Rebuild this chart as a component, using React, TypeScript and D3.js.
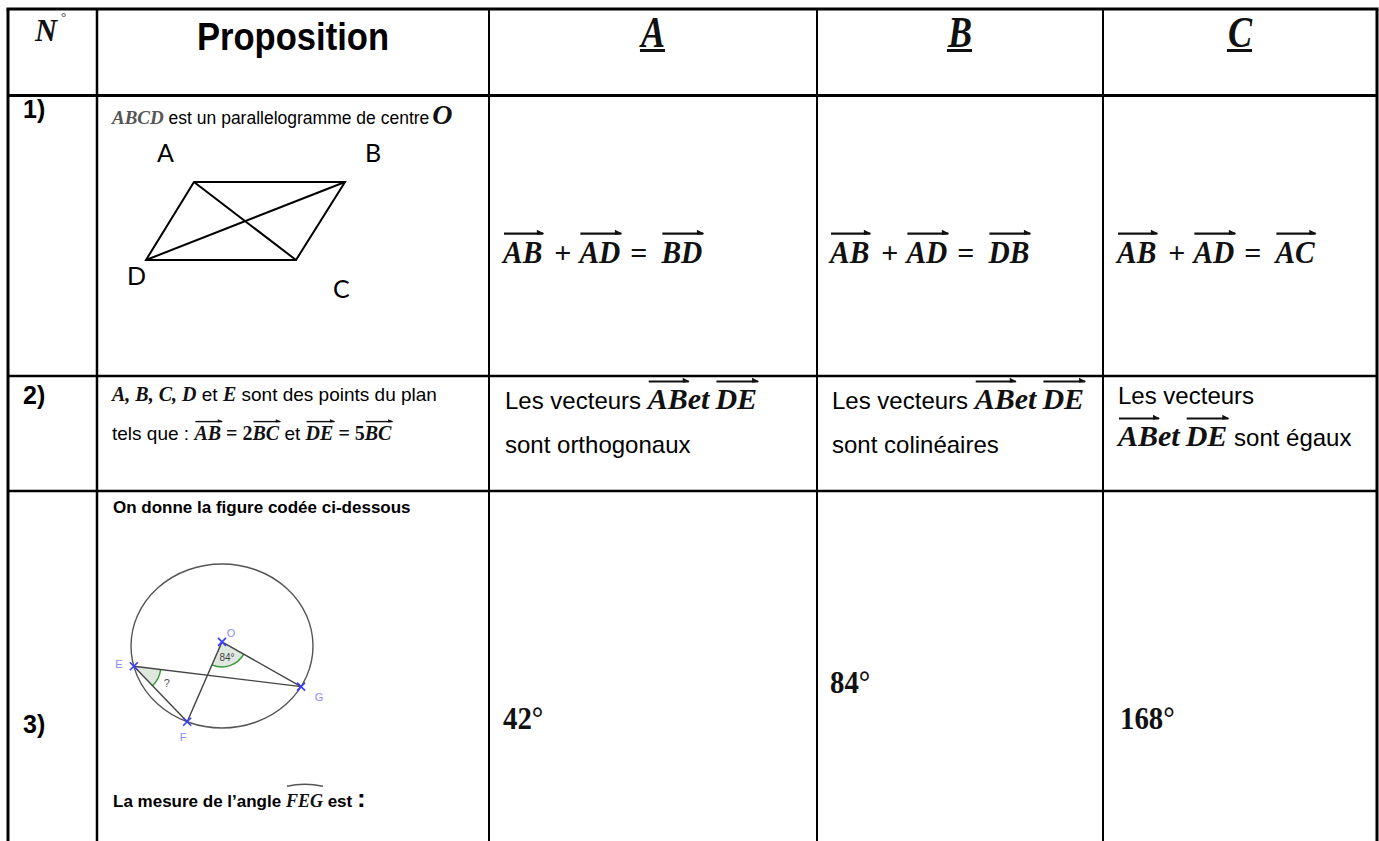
import React, { useEffect, useRef } from "react";
import * as d3 from "d3";

// ---------- content ----------
const headerTitle = "Proposition";
const choiceLetters = ["A", "B", "C"];
const rowLabels = ["1)", "2)", "3)"];

const q1Subject = "ABCD";
const q1Statement = " est un parallelogramme de centre";
const q1Centre = "O";
const q1VertexNames = ["A", "B", "C", "D"];
const q1VertexX = [48, 199, 150, 0];
const q1VertexY = [78, 78, 0, 0];
const q1Left = ["AB", "AB", "AB"];
const q1Middle = ["AD", "AD", "AD"];
const q1Right = ["BD", "DB", "AC"];

const q2Points = "A, B, C, D";
const q2Tail = ["sont orthogonaux", "sont colinéaires", "sont égaux"];

const q3Intro = "On donne la figure codée ci-dessous";
const q3PointNames = ["E", "F", "G"];
const q3PointAngles = [165.7, 112.5, 29.7];
const q3Central = "84°";
const q3Question = "La mesure de l’angle ";
const q3Choices = ["42°", "84°", "168°"];

// ---------- layout ----------
const W = 1379, H = 841;
const colX = [8, 97, 489, 817, 1103, 1377];
const rowY = [9, 95.5, 376, 491, 850];
const sans = "'Liberation Sans', Arial, sans-serif";
const serif = "'Liberation Serif', 'Times New Roman', serif";
const lato = "Lato, 'Open Sans', sans-serif";

type Part = {
  t?: string; gap?: number; font?: string; size?: number;
  weight?: string; style?: string; vec?: boolean; fill?: string; hat?: boolean; squeeze?: number;
};

function drawVec(g: any, x1: number, x2: number, y: number, size: number) {
  const sw = Math.max(1.4, size / 15);
  g.append("line").attr("x1", x1 + 1).attr("x2", x2 + 1).attr("y1", y).attr("y2", y)
    .attr("stroke", "#111").attr("stroke-width", sw);
  const h = size * 0.12;
  g.append("path")
    .attr("d", `M${x2 - h * 1.4},${y - h} L${x2 + 2},${y} L${x2 - h * 1.4},${y + h * 0.4} Z`)
    .attr("fill", "#111");
}

function runLine(g: any, x0: number, y: number, parts: Part[]) {
  let x = x0;
  for (const p of parts) {
    if (p.gap) { x += p.gap; continue; }
    const size = p.size || 18;
    const t = g.append("text").attr("x", x).attr("y", y)
      .attr("font-family", p.font || sans).attr("font-size", size)
      .attr("font-weight", p.weight || "normal").attr("font-style", p.style || "normal")
      .attr("fill", p.fill || "#000").style("white-space", "pre").text(p.t);
    let w = (t.node() as SVGTextElement).getComputedTextLength();
    if (p.squeeze) {
      w = w * p.squeeze;
      t.attr("textLength", w).attr("lengthAdjust", "spacingAndGlyphs");
    }
    if (p.vec) drawVec(g, x, x + w, y - size * 0.92, size);
    if (p.hat) {
      const yy = y - size * 1.15;
      g.append("path").attr("d", `M${x + 1},${yy} Q${x + w / 2},${yy - 4} ${x + w},${yy}`)
        .attr("fill", "none").attr("stroke", "#555").attr("stroke-width", 1.5);
    }
    x += w;
  }
  return x;
}

const mathB = (t: string, size: number, vec = false, squeeze = 0): Part =>
  ({ t, size, vec, squeeze, font: serif, weight: "bold", style: "italic", fill: "#111" });
const opB = (t: string, size: number, squeeze = 0): Part => ({ t, size, squeeze, font: serif, weight: "bold", fill: "#111" });
const txt = (t: string, size: number, weight = "normal"): Part => ({ t, size, font: sans, weight });

export default function App() {
  const ref = useRef<SVGSVGElement>(null);

  useEffect(() => {
    document.body.style.margin = "0";
    document.body.style.overflow = "hidden";
    const svg = d3.select(ref.current);
    svg.selectAll("*").remove();
    svg.append("rect").attr("width", W).attr("height", H).attr("fill", "#fff");
    const g = svg.append("g");

    // ---------- table grid ----------
    const grid = g.append("g").attr("stroke", "#000");
    grid.append("line").attr("x1", colX[0] - 1.5).attr("x2", colX[5] + 1.5)
      .attr("y1", rowY[0]).attr("y2", rowY[0]).attr("stroke-width", 3);
    rowY.slice(1, 4).forEach((y, i) => {
      grid.append("line").attr("x1", colX[0]).attr("x2", colX[5]).attr("y1", y).attr("y2", y)
        .attr("stroke-width", i === 0 ? 3 : 2.5);
    });
    colX.forEach((x, i) => {
      grid.append("line").attr("x1", x).attr("x2", x).attr("y1", rowY[0]).attr("y2", rowY[4])
        .attr("stroke-width", i === 0 || i === 5 ? 3 : i === 1 ? 2.5 : 2);
    });

    // ---------- header ----------
    g.append("text").attr("x", 35).attr("y", 41).attr("font-family", serif).attr("font-size", 32)
      .attr("font-weight", "bold").attr("font-style", "italic").attr("fill", "#111")
      .attr("textLength", 22).attr("lengthAdjust", "spacingAndGlyphs").text("N");
    g.append("text").attr("x", 61).attr("y", 21).attr("font-family", serif).attr("font-size", 13)
      .attr("fill", "#333").text("°");
    g.append("text").attr("x", (colX[1] + colX[2]) / 2).attr("y", 50).attr("text-anchor", "middle")
      .attr("font-family", sans).attr("font-weight", "bold").attr("font-size", 38)
      .attr("textLength", 192).attr("lengthAdjust", "spacingAndGlyphs").text(headerTitle);
    choiceLetters.forEach((L, i) => {
      const cx = (colX[i + 2] + colX[i + 3]) / 2;
      const t = g.append("text").attr("x", cx).attr("y", 47).attr("text-anchor", "middle")
        .attr("font-family", serif).attr("font-weight", "bold").attr("font-style", "italic")
        .attr("font-size", 44).attr("fill", "#111").text(L);
      const w = (t.node() as SVGTextElement).getComputedTextLength() * 0.82;
      t.attr("textLength", w).attr("lengthAdjust", "spacingAndGlyphs");
      g.append("rect").attr("x", cx - w / 2 - 1).attr("y", 49).attr("width", w + 1).attr("height", 3).attr("fill", "#111");
    });

    // row labels
    const labelBase = [118, 404, 733];
    rowLabels.forEach((r, i) => {
      g.append("text").attr("x", 23).attr("y", labelBase[i]).attr("font-family", sans)
        .attr("font-weight", "bold").attr("font-size", 25).text(r);
    });

    // ---------- row 1 ----------
    runLine(g, 112, 124, [
      { ...mathB(q1Subject, 19), fill: "#555" },
      txt(q1Statement, 17.5),
      { gap: 3 },
      mathB(q1Centre, 28),
    ]);
    const px = d3.scaleLinear().domain([0, 199]).range([146, 345]);
    const py = d3.scaleLinear().domain([0, 78]).range([260, 182]);
    const verts = q1VertexNames.map((n, i) => ({ n, x: px(q1VertexX[i]), y: py(q1VertexY[i]) }));
    const [vA, vB, vC, vD] = verts;
    const fig = g.append("g").attr("stroke", "#000").attr("stroke-width", 2).attr("fill", "none");
    fig.append("path").attr("d", d3.line()([[vA.x, vA.y], [vB.x, vB.y], [vC.x, vC.y], [vD.x, vD.y]]) + "Z")
      .attr("stroke-linejoin", "miter");
    fig.append("line").attr("x1", vA.x).attr("y1", vA.y).attr("x2", vC.x).attr("y2", vC.y);
    fig.append("line").attr("x1", vB.x).attr("y1", vB.y).attr("x2", vD.x).attr("y2", vD.y);
    const labOff: Record<string, [number, number]> = { A: [-37, -20], B: [20, -20], C: [37, 38], D: [-19, 25] };
    verts.forEach((v) => {
      g.append("text").attr("x", v.x + labOff[v.n][0]).attr("y", v.y + labOff[v.n][1])
        .attr("font-family", lato).attr("font-size", 25).text(v.n);
    });
    const colStart = [503, 830, 1117];
    q1Right.forEach((r, i) => {
      runLine(g, colStart[i], 263, [
        mathB(q1Left[i], 32, true, 0.92), { gap: 12 }, opB("+", 30), { gap: 8 },
        mathB(q1Middle[i], 32, true, 0.92), { gap: 10 }, opB("=", 30), { gap: 14 },
        mathB(r, 32, true, 0.92),
      ]);
    });

    // ---------- row 2 ----------
    runLine(g, 112, 401, [
      mathB(q2Points, 20), txt(" et ", 19), mathB("E", 20), txt(" sont des points du plan", 19),
    ]);
    runLine(g, 112, 440, [
      txt("tels que : ", 19), mathB("AB", 20, true), { gap: 5 }, opB("=", 20), { gap: 5 },
      opB("2", 20), mathB("BC", 20, true), txt(" et ", 19), mathB("DE", 20, true),
      { gap: 5 }, opB("=", 20), { gap: 5 }, opB("5", 20), mathB("BC", 20, true),
    ]);
    const vecPair = (): Part[] => [mathB("AB", 30, true), mathB("et", 30), { gap: 6 }, mathB("DE", 30, true)];
    [0, 1].forEach((i) => {
      runLine(g, colStart[i] + 2, 409, [txt("Les vecteurs ", 24), ...vecPair()]);
      runLine(g, colStart[i] + 2, 453, [txt(q2Tail[i], 24)]);
    });
    runLine(g, 1118, 404, [txt("Les vecteurs", 24)]);
    runLine(g, 1118, 446, [...vecPair(), txt(" " + q2Tail[2], 24)]);

    // ---------- row 3 ----------
    runLine(g, 113, 513, [txt(q3Intro, 17, "bold")]);
    runLine(g, 113, 807, [
      txt(q3Question, 17, "bold"), { ...mathB("FEG", 18), hat: true }, txt(" est ", 17, "bold"),
      txt(":", 26, "bold"),
    ]);

    const sx = d3.scaleLinear().domain([-1, 1]).range([131, 313]);
    const sy = d3.scaleLinear().domain([-1, 1]).range([564, 728]);
    const rad = (a: number) => (a * Math.PI) / 180;
    const pts: Record<string, [number, number]> = {};
    q3PointNames.forEach((n, i) => {
      pts[n] = [sx(Math.cos(rad(q3PointAngles[i]))), sy(Math.sin(rad(q3PointAngles[i])))];
    });
    pts.O = [sx(0), sy(-0.05)];
    const circ = g.append("g");
    circ.append("ellipse").attr("cx", sx(0)).attr("cy", sy(0))
      .attr("rx", (sx(1) - sx(-1)) / 2).attr("ry", (sy(1) - sy(-1)) / 2)
      .attr("fill", "none").attr("stroke", "#555").attr("stroke-width", 1.4);

    const ang = (p: [number, number], q: [number, number]) => Math.atan2(q[1] - p[1], q[0] - p[0]);
    const sector = (c: [number, number], a0: number, a1: number, r: number) => {
      const s = d3.path(); s.moveTo(c[0], c[1]); s.arc(c[0], c[1], r, a0, a1); s.closePath();
      circ.append("path").attr("d", s.toString()).attr("fill", "#dfe8df");
      const a = d3.path(); a.moveTo(c[0] + r * Math.cos(a0), c[1] + r * Math.sin(a0)); a.arc(c[0], c[1], r, a0, a1);
      circ.append("path").attr("d", a.toString()).attr("fill", "none").attr("stroke", "#3a9a3a").attr("stroke-width", 1.5);
    };
    const aOG = ang(pts.O, pts.G), aOF = ang(pts.O, pts.F);
    const aEG = ang(pts.E, pts.G), aEF = ang(pts.E, pts.F);
    sector(pts.O, aOG, aOF, 25);
    sector(pts.E, aEG, aEF, 27);

    const seg = circ.append("g").attr("stroke", "#444").attr("stroke-width", 1.4);
    ([["E", "G"], ["E", "F"], ["O", "F"], ["O", "G"]] as [string, string][]).forEach(([a, b]) => {
      seg.append("line").attr("x1", pts[a][0]).attr("y1", pts[a][1]).attr("x2", pts[b][0]).attr("y2", pts[b][1]);
    });

    const midO = (aOG + aOF) / 2, midE = (aEG + aEF) / 2;
    circ.append("text").attr("x", pts.O[0] + 16 * Math.cos(midO)).attr("y", pts.O[1] + 16 * Math.sin(midO) + 4)
      .attr("text-anchor", "middle").attr("font-family", sans).attr("font-size", 10).attr("fill", "#444").text(q3Central);
    circ.append("text").attr("x", pts.E[0] + 37 * Math.cos(midE)).attr("y", pts.E[1] + 37 * Math.sin(midE) + 4)
      .attr("text-anchor", "middle").attr("font-family", sans).attr("font-size", 11).attr("fill", "#555").text("?");

    const ptLab: Record<string, [number, number]> = { E: [-15, 2], F: [-4, 19], G: [18, 14], O: [9, -5] };
    ["E", "F", "G", "O"].forEach((n) => {
      const [x, y] = pts[n];
      circ.append("path").attr("d", `M${x - 4},${y - 4}L${x + 4},${y + 4}M${x - 4},${y + 4}L${x + 4},${y - 4}`)
        .attr("stroke", "#3a3aff").attr("stroke-width", 1.6);
      circ.append("text").attr("x", x + ptLab[n][0]).attr("y", y + ptLab[n][1]).attr("text-anchor", "middle")
        .attr("font-family", sans).attr("font-size", 11).attr("fill", "#8a8aff").text(n);
    });

    const ansBase = [729, 693, 729];
    q3Choices.forEach((c, i) => {
      runLine(g, colStart[i] + (i === 2 ? 3 : 0), ansBase[i], [opB(c, 32, 0.9)]);
    });
  }, []);

  return (
    <svg ref={ref} width={W} height={H}
      style={{ position: "absolute", left: 0, top: 0, display: "block" }} />
  );
}
